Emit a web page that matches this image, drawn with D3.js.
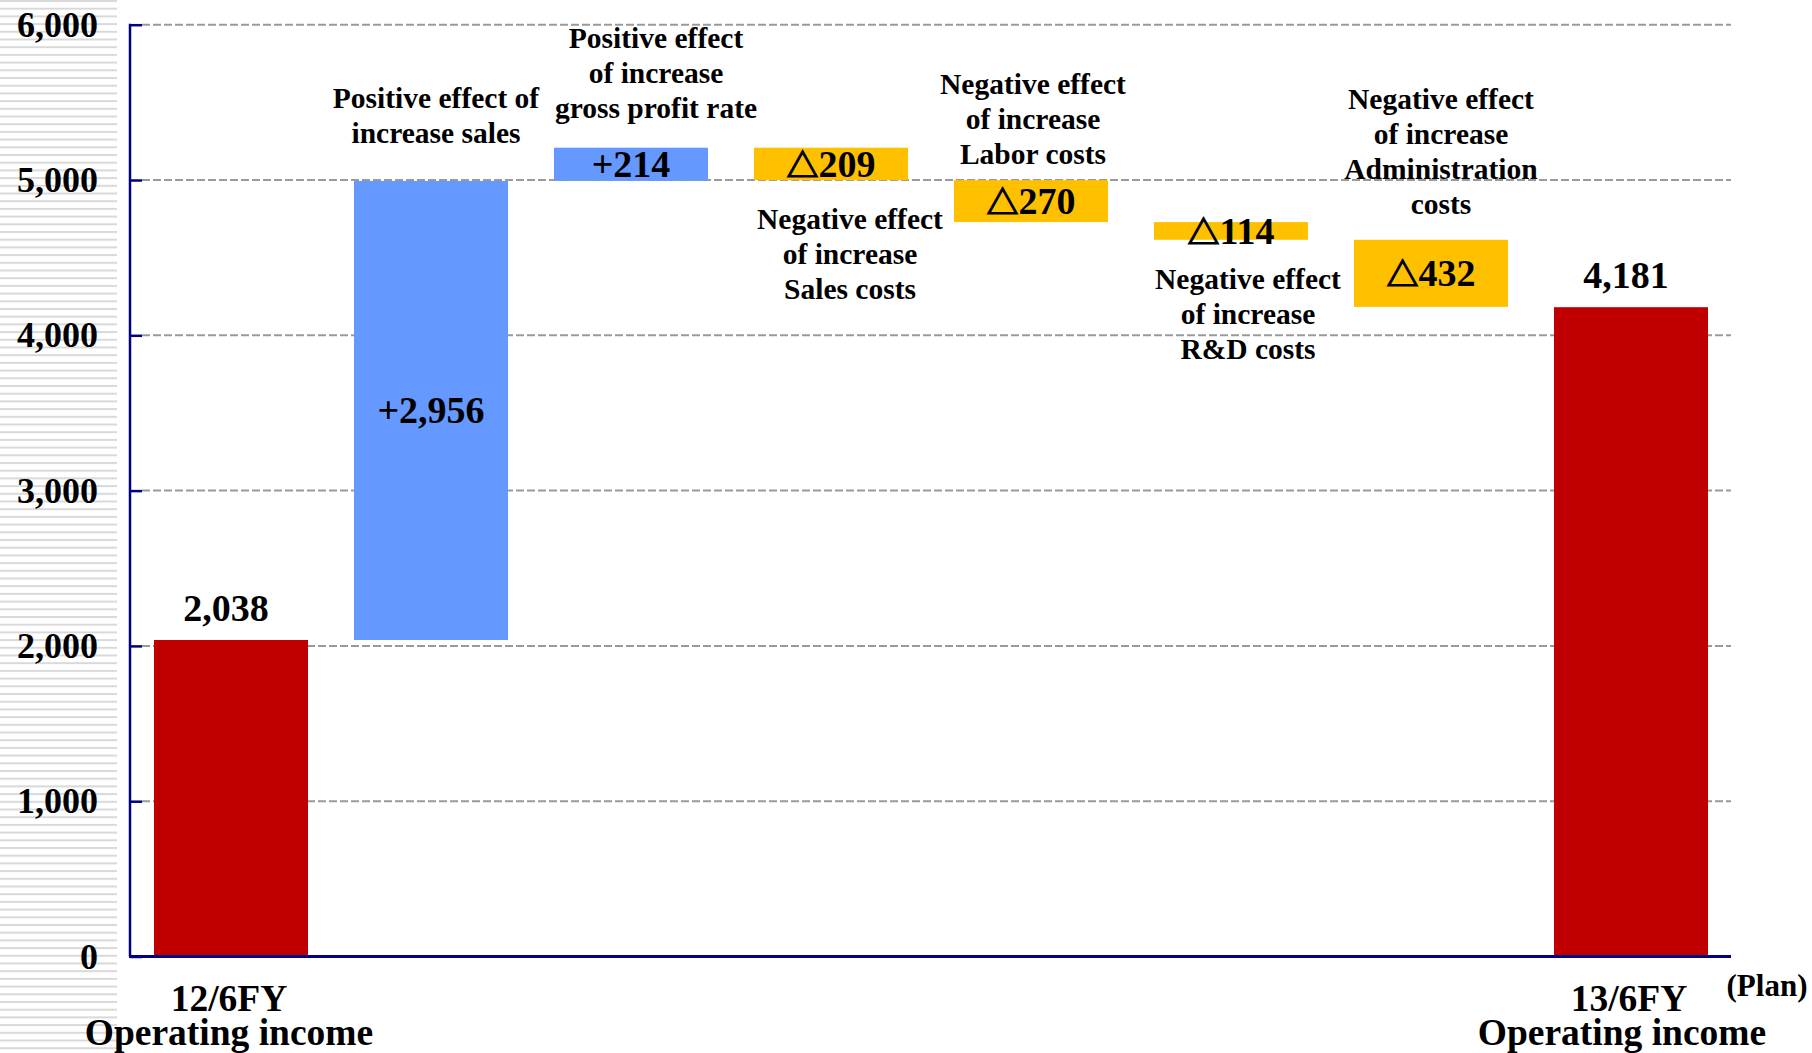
<!DOCTYPE html>
<html>
<head>
<meta charset="utf-8">
<script src="https://cdn.jsdelivr.net/npm/d3@7"></script>
<style>
  body { margin: 0; background: #fff; }
  text { font-family: "Liberation Serif", "Times New Roman", serif; font-weight: bold; fill: #000; }
</style>
</head>
<body>
<div id="chart"></div>
<script>
// data
var categories = ["12/6FY Operating income", "Increase sales", "Gross profit rate", "Sales costs",
  "Labor costs", "R&D costs", "Administration costs", "13/6FY Operating income"];
var changes = [2038, 2956, 214, -209, -270, -114, -432, 4181];
var barTypes = ["total", "up", "up", "down", "down", "down", "down", "total"];
var valueLabels = ["2,038", "+2,956", "+214", "\u25B3209", "\u25B3270", "\u25B3114", "\u25B3432", "4,181"];
var yTicks = [0, 1000, 2000, 3000, 4000, 5000, 6000];
var noteLines = [
  null,
  ["Positive effect of", "increase sales"],
  ["Positive effect", "of increase", "gross profit rate"],
  ["Negative effect", "of increase", "Sales costs"],
  ["Negative effect", "of increase", "Labor costs"],
  ["Negative effect", "of increase", "R&D costs"],
  ["Negative effect", "of increase", "Administration", "costs"],
  null
];
var xLabelLines = [["12/6FY", "Operating income"], ["13/6FY", "Operating income"]];

var svgWidth = 1812;
var svgHeight = 1053;

var colors = { total: "#C00000", up: "#6699FF", down: "#FFC000" };

// placement of the callout texts (pixel offsets from bar centre)
var notePos = [
  null,
  { dx: 5, y: 108 },
  { dx: 25, y: 48 },
  { dx: 19, y: 229 },
  { dx: 2, y: 94 },
  { dx: 17, y: 289 },
  { dx: 10, y: 109 },
  null
];

var svg = d3.select("#chart")
  .append("svg")
  .attr("width", svgWidth)
  .attr("height", svgHeight);

// striped strip behind the y labels
var defs = svg.append("defs");
var pat = defs.append("pattern")
  .attr("id", "stripes")
  .attr("patternUnits", "userSpaceOnUse")
  .attr("width", 10)
  .attr("height", 7.7);
pat.append("rect")
  .attr("x", 0).attr("y", 0)
  .attr("width", 10).attr("height", 2)
  .attr("fill", "#d9d9d9");

svg.append("rect")
  .attr("x", 0).attr("y", 0)
  .attr("width", 117).attr("height", svgHeight)
  .attr("fill", "url(#stripes)");

var xScale = d3.scaleBand()
  .domain(categories)
  .range([131, 1731])
  .paddingInner(0.23)
  .paddingOuter(0.115);

var yScale = d3.scaleLinear()
  .domain([0, 6000])
  .range([956.5, 24.7]);

// waterfall start / end values
var running = 0;
var bars = changes.map(function(v, i) {
  var b = { cat: categories[i], type: barTypes[i], label: valueLabels[i], i: i };
  if (barTypes[i] == "total") {
    b.y0 = 0;
    b.y1 = v;
    running = v;
  } else {
    b.y0 = running;
    b.y1 = running + v;
    running = running + v;
  }
  return b;
});

// dashed gridlines
svg.append("g")
  .selectAll("line")
  .data(yTicks.filter(d => d > 0))
  .enter()
  .append("line")
  .attr("x1", 142)
  .attr("x2", 1731)
  .attr("y1", d => yScale(d))
  .attr("y2", d => yScale(d))
  .attr("stroke", "#9a9a9a")
  .attr("stroke-width", 2)
  .attr("stroke-dasharray", "8,3");

// bars
svg.append("g")
  .selectAll("rect")
  .data(bars)
  .enter()
  .append("rect")
  .attr("x", d => xScale(d.cat))
  .attr("width", xScale.bandwidth())
  .attr("y", d => yScale(Math.max(d.y0, d.y1)))
  .attr("height", d => Math.abs(yScale(d.y0) - yScale(d.y1)))
  .attr("fill", d => colors[d.type]);

// y axis with inner ticks
var leftAxis = d3.axisRight(yScale)
  .tickValues(yTicks)
  .tickSize(12)
  .tickFormat("");
var yAxis = svg.append("g")
  .attr("transform", "translate(130,0)")
  .call(leftAxis);
yAxis.select(".domain").remove();
yAxis.selectAll(".tick line")
  .attr("stroke", "#000080")
  .attr("stroke-width", 2.5);
svg.append("line")
  .attr("x1", 130).attr("x2", 130)
  .attr("y1", yScale(6000) - 1).attr("y2", yScale(0))
  .attr("stroke", "#000080")
  .attr("stroke-width", 2.5);
svg.append("line")
  .attr("x1", 129).attr("x2", 1731)
  .attr("y1", yScale(0)).attr("y2", yScale(0))
  .attr("stroke", "#000080")
  .attr("stroke-width", 3);

// tick labels
svg.append("g")
  .selectAll("text")
  .data(yTicks)
  .enter()
  .append("text")
  .attr("x", 98)
  .attr("y", d => yScale(d) + 12)
  .attr("text-anchor", "end")
  .attr("font-size", 36)
  .text(d => d3.format(",")(d));

// value labels
function addValue(d) {
  var cx = xScale(d.cat) + xScale.bandwidth() / 2;
  var t;
  if (d.type == "total") {
    t = svg.append("text")
      .attr("x", cx - 5)
      .attr("y", yScale(d.y1) - 19)
      .attr("font-size", 38);
  } else {
    var mid = (yScale(d.y0) + yScale(d.y1)) / 2;
    t = svg.append("text")
      .attr("x", cx)
      .attr("y", mid + 13)
      .attr("font-size", 38);
  }
  t.attr("text-anchor", "middle");
  if (d.label.charAt(0) == "\u25B3") {
    t.append("tspan")
      .style("font-family", "'Noto Sans CJK JP', 'DejaVu Sans', sans-serif")
      .attr("font-size", 32)
      .attr("stroke", "#000")
      .attr("stroke-width", 1.2)
      .text("\u25B3");
    t.append("tspan").text(d.label.slice(1));
  } else {
    t.text(d.label);
  }
}
bars.forEach(addValue);

// callout texts
noteLines.forEach(function(lines, i) {
  if (!lines) return;
  var cx = xScale(categories[i]) + xScale.bandwidth() / 2 + notePos[i].dx;
  var t = svg.append("text")
    .attr("text-anchor", "middle")
    .attr("font-size", 29.5);
  lines.forEach(function(s, k) {
    t.append("tspan")
      .attr("x", cx)
      .attr("y", notePos[i].y + k * 35)
      .text(s);
  });
});

// category labels under the two totals
[0, 7].forEach(function(idx, j) {
  var cx = xScale(categories[idx]) + xScale.bandwidth() / 2 - 2;
  var t = svg.append("text")
    .attr("text-anchor", "middle")
    .attr("font-size", 37.5);
  t.append("tspan").attr("x", cx).attr("y", 1011).text(xLabelLines[j][0]);
  t.append("tspan").attr("x", cx - (j == 1 ? 7 : 0)).attr("y", 1045).text(xLabelLines[j][1]);
});

svg.append("text")
  .attr("x", 1767)
  .attr("y", 996)
  .attr("text-anchor", "middle")
  .attr("font-size", 31)
  .text("(Plan)");
</script>
</body>
</html>
